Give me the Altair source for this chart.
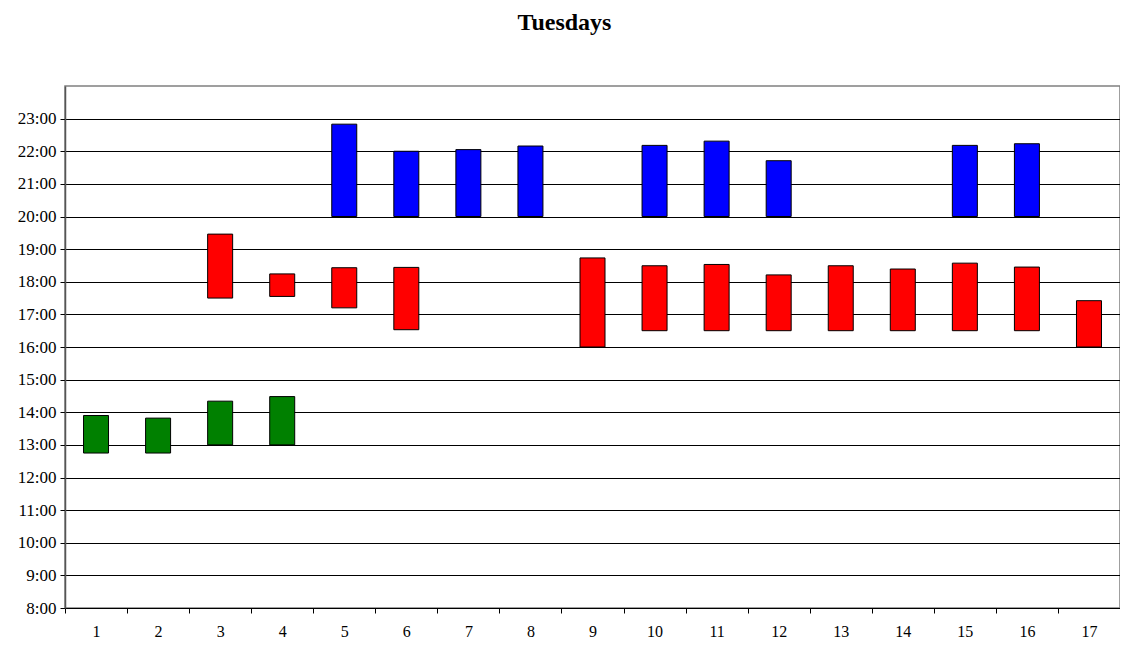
import altair as alt
import pandas as pd

categories = list(range(1, 18))

green_idx = [1, 2, 3, 4]
green_start = [12.75, 12.75, 13.0, 13.0]
green_end = [13.9, 13.82, 14.34, 14.48]

red_idx = [3, 4, 5, 6, 9, 10, 11, 12, 13, 14, 15, 16, 17]
red_start = [17.5, 17.55, 17.2, 16.53, 16.0, 16.5, 16.5, 16.5, 16.5, 16.5, 16.5, 16.5, 16.0]
red_end = [19.46, 18.24, 18.43, 18.44, 18.73, 18.49, 18.53, 18.21, 18.49, 18.39, 18.57, 18.45, 17.42]

blue_idx = [5, 6, 7, 8, 10, 11, 12, 15, 16]
blue_start = [20.0, 20.0, 20.0, 20.0, 20.0, 20.0, 20.0, 20.0, 20.0]
blue_end = [22.83, 22.0, 22.05, 22.16, 22.18, 22.31, 21.71, 22.18, 22.23]

hour_ticks = list(range(8, 24))

rows = []
for name, idx, s, e in [("green", green_idx, green_start, green_end),
                        ("red", red_idx, red_start, red_end),
                        ("blue", blue_idx, blue_start, blue_end)]:
    for i, a, b in zip(idx, s, e):
        rows.append({"cat": str(i), "start": a, "end": b, "series": name})
df = pd.DataFrame(rows)

FONT = "Liberation Serif"

bars = alt.Chart(df).mark_bar(size=25, stroke="black", strokeWidth=1).encode(
    x=alt.X("cat:O", sort=[str(c) for c in categories],
            scale=alt.Scale(domain=[str(c) for c in categories], paddingInner=0, paddingOuter=0),
            axis=alt.Axis(title=None, labelAngle=0, tickBand="extent", tickSize=5,
                          tickColor="black", domainColor="black", labelPadding=10,
                          labelFont=FONT, labelFontSize=16, labelColor="black", grid=False)),
    y=alt.Y("start:Q", scale=alt.Scale(domain=[8, 24], nice=False, zero=False),
            axis=alt.Axis(title=None, values=hour_ticks, labelExpr="floor(datum.value) + ':00'",
                          grid=True, gridColor="black", gridWidth=1, tickSize=5, tickColor="black",
                          domainColor="#555555", domainWidth=1.5, labelPadding=4,
                          labelFont=FONT, labelFontSize=17, labelColor="black")),
    y2="end:Q",
    color=alt.Color("series:N", scale=alt.Scale(domain=["green", "red", "blue"],
                                                range=["#008000", "#FF0000", "#0000FF"]),
                    legend=None),
)

chart = bars.properties(
    width=1055, height=522,
    title=alt.TitleParams("Tuesdays", font=FONT, fontSize=24, fontWeight="bold",
                          anchor="middle", dx=-28, offset=51, color="black"),
    padding={"left": 57, "top": 78, "right": 0, "bottom": 34},
    autosize=alt.AutoSizeParams(type="none"),
).configure_view(stroke="#808080", strokeWidth=1.5)

chart.save("out.html", embed_options={"renderer": "svg", "actions": False})
